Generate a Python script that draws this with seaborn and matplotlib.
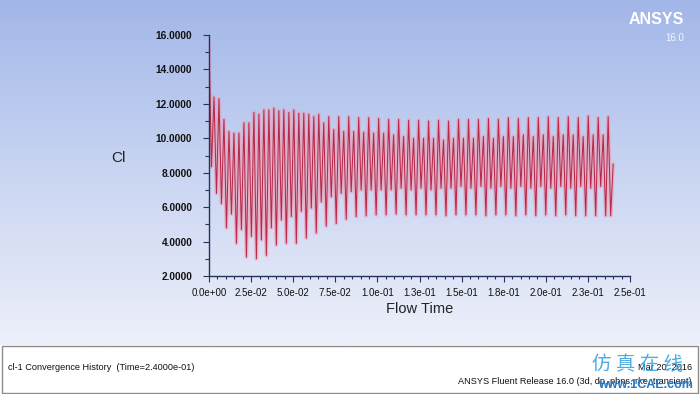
import numpy as np
import pandas as pd
import matplotlib
matplotlib.use("Agg")
import matplotlib.pyplot as plt
from matplotlib.colors import LinearSegmentedColormap
from matplotlib.patches import Rectangle
from matplotlib.ticker import FixedLocator, MultipleLocator
import seaborn as sns

# ---------------- data ----------------
# successive local maxima of Cl (one per half cycle)
peaks = [15.4, 12.4, 12.3, 11.1, 10.4, 10.3, 10.3, 10.9, 10.9, 11.5,
         11.4, 11.65, 11.65, 11.75, 11.6, 11.65, 11.5, 11.65, 11.46, 11.46,
         11.4, 11.26, 11.4, 10.9, 11.26, 10.5, 11.26, 10.4, 11.25, 10.4,
         11.2, 10.35, 11.2, 10.3, 11.15, 10.3, 11.1, 10.2, 11.1, 10.1,
         11.05, 10.0, 11.05, 10.0, 11.0, 10.0, 11.05, 9.9, 11.0, 10.0,
         11.1, 10.0, 11.1, 10.0, 11.1, 10.1, 11.15, 10.0, 11.1, 10.1,
         11.2, 10.1, 11.15, 10.2, 11.2, 10.1, 11.2, 10.2, 11.25, 10.1,
         11.2, 10.2, 11.25, 10.2, 11.2, 10.1, 11.3, 10.2, 11.2, 10.2,
         11.25]
# successive local minima of Cl (one after each maximum)
troughs = [8.35, 6.8, 6.2, 4.8, 5.6, 3.9, 4.7, 3.1, 4.3, 3.0,
           4.1, 3.2, 4.8, 3.8, 5.25, 3.9, 5.45, 3.9, 5.75, 4.2,
           5.95, 4.5, 6.3, 4.9, 6.6, 5.05, 6.8, 5.3, 6.9, 5.45,
           7.0, 5.5, 7.0, 5.55, 7.0, 5.55, 7.0, 5.6, 7.1, 5.55,
           7.0, 5.55, 7.1, 5.55, 7.0, 5.55, 7.1, 5.5, 7.1, 5.55,
           7.2, 5.55, 7.1, 5.55, 7.2, 5.5, 7.1, 5.55, 7.2, 5.55,
           7.1, 5.5, 7.2, 5.55, 7.1, 5.5, 7.2, 5.55, 7.1, 5.5,
           7.2, 5.55, 7.1, 5.5, 7.2, 5.5, 7.1, 5.5, 7.2, 5.5,
           5.5]
final_value = 8.5
t_end = 0.24

x_ticks = [0.0, 0.025, 0.05, 0.075, 0.1, 0.125, 0.15, 0.175, 0.2, 0.225, 0.25]
x_ticklabels = ["0.0e+00", "2.5e-02", "5.0e-02", "7.5e-02", "1.0e-01", "1.3e-01",
                "1.5e-01", "1.8e-01", "2.0e-01", "2.3e-01", "2.5e-01"]
y_ticks = [2, 4, 6, 8, 10, 12, 14, 16]
y_ticklabels = ["2.0000", "4.0000", "6.0000", "8.0000", "10.0000", "12.0000",
                "14.0000", "16.0000"]

values = []
for p, tr in zip(peaks, troughs):
    values += [p, tr]
values.append(final_value)
time = np.linspace(0.0, t_end, len(values))
df = pd.DataFrame({"Flow Time": time, "Cl": values})

# ---------------- figure ----------------
sns.set_theme(style="white")
plt.rcParams["font.family"] = ["Liberation Sans", "DejaVu Sans"]

W, H = 700, 394
fig = plt.figure(figsize=(W / 100, H / 100), dpi=100)

# background gradient
bg = fig.add_axes([0, 0, 1, 1], zorder=-10)
cmap = LinearSegmentedColormap.from_list(
    "bg", [(0.0, "#a2b6e8"), (0.5, "#c9d5f2"), (1.0, "#eef0fa")])
grad = np.linspace(0, 1, 256).reshape(-1, 1)
bg.imshow(grad, aspect="auto", cmap=cmap, extent=[0, 1, 1 - 345 / H, 1],
          origin="upper")
bg.set_xlim(0, 1)
bg.set_ylim(0, 1)
bg.axis("off")

# bottom info panel
bg.add_patch(Rectangle((1.5 / W, 1.5 / H), (W - 4) / W, 47 / H,
                       facecolor="white", edgecolor="#8c8c8c", lw=1.0))

ax = fig.add_axes([209 / W, 1 - 276 / H, (630 - 209) / W, (276 - 35) / H])
ax.set_facecolor("none")
# soft pink halo under the trace (the reference trace looks blurred)
sns.lineplot(data=df, x="Flow Time", y="Cl", ax=ax, color="#f096ac",
             linewidth=2.8, alpha=0.55, estimator=None, sort=False)
sns.lineplot(data=df, x="Flow Time", y="Cl", ax=ax, color="#b8294a",
             linewidth=0.75, estimator=None, sort=False)

ax.set_xlim(0, 0.25)
ax.set_ylim(2, 16)
ax.xaxis.set_major_locator(FixedLocator(x_ticks))
ax.set_xticklabels(x_ticklabels)
ax.xaxis.set_minor_locator(MultipleLocator(0.005))
ax.yaxis.set_major_locator(FixedLocator(y_ticks))
ax.set_yticklabels(y_ticklabels)
ax.yaxis.set_minor_locator(MultipleLocator(1))
ax.set_xlabel("")
ax.set_ylabel("")

axis_col = "#25325a"
for s in ["top", "right"]:
    ax.spines[s].set_visible(False)
for s in ["left", "bottom"]:
    ax.spines[s].set_color(axis_col)
    ax.spines[s].set_linewidth(1.0)
ax.tick_params(which="both", direction="out", color=axis_col, width=0.8)
ax.tick_params(axis="y", which="major", length=4, pad=8, labelsize=7.3,
               labelcolor="#111111")
ax.tick_params(axis="y", which="minor", length=3)
ax.tick_params(axis="x", which="major", length=4, pad=5, labelsize=7,
               labelcolor="#111111")
ax.tick_params(axis="x", which="minor", length=2.5)
ax.tick_params(left=True, bottom=True, which="both")
for lab in ax.get_yticklabels():
    lab.set_fontweight("bold")

fig.text(118 / W, 1 - 158 / H, "Cl", fontsize=11, color="#222222",
         ha="center", va="center")
fig.text(420 / W, 1 - 309 / H, "Flow Time", fontsize=10.5, color="#222222",
         ha="center", va="center")

# ANSYS logo
fig.text(684 / W, 1 - 19 / H, "ANSYS", fontsize=11.5, fontweight="bold",
         color="white", ha="right", va="center")
fig.text(684 / W, 1 - 38 / H, "16.0", fontsize=7, color="#f4f6ff",
         ha="right", va="center")

# panel texts
fig.text(8 / W, 1 - 367 / H, "cl-1 Convergence History  (Time=2.4000e-01)",
         fontsize=6.6, color="#111111", ha="left", va="center")
fig.text(692 / W, 1 - 367 / H, "Mar 20, 2016", fontsize=6.6, color="#111111",
         ha="right", va="center")
fig.text(692 / W, 1 - 381 / H,
         "ANSYS Fluent Release 16.0 (3d, dp, pbns, rke, transient)",
         fontsize=6.6, color="#111111", ha="right", va="center")

# watermark (overlaps the panel texts, as in the reference)
fig.text(638 / W, 1 - 364 / H, "仿 真 在 线", fontsize=14,
         family=["Noto Sans CJK SC", "DejaVu Sans"], color="#3aa3df",
         ha="center", va="center", alpha=0.9)
fig.text(645 / W, 1 - 385 / H, "www.1CAE.com", fontsize=9, fontweight="bold",
         color="#1f78c8", ha="center", va="center")

fig.savefig("out.png", dpi=100)
